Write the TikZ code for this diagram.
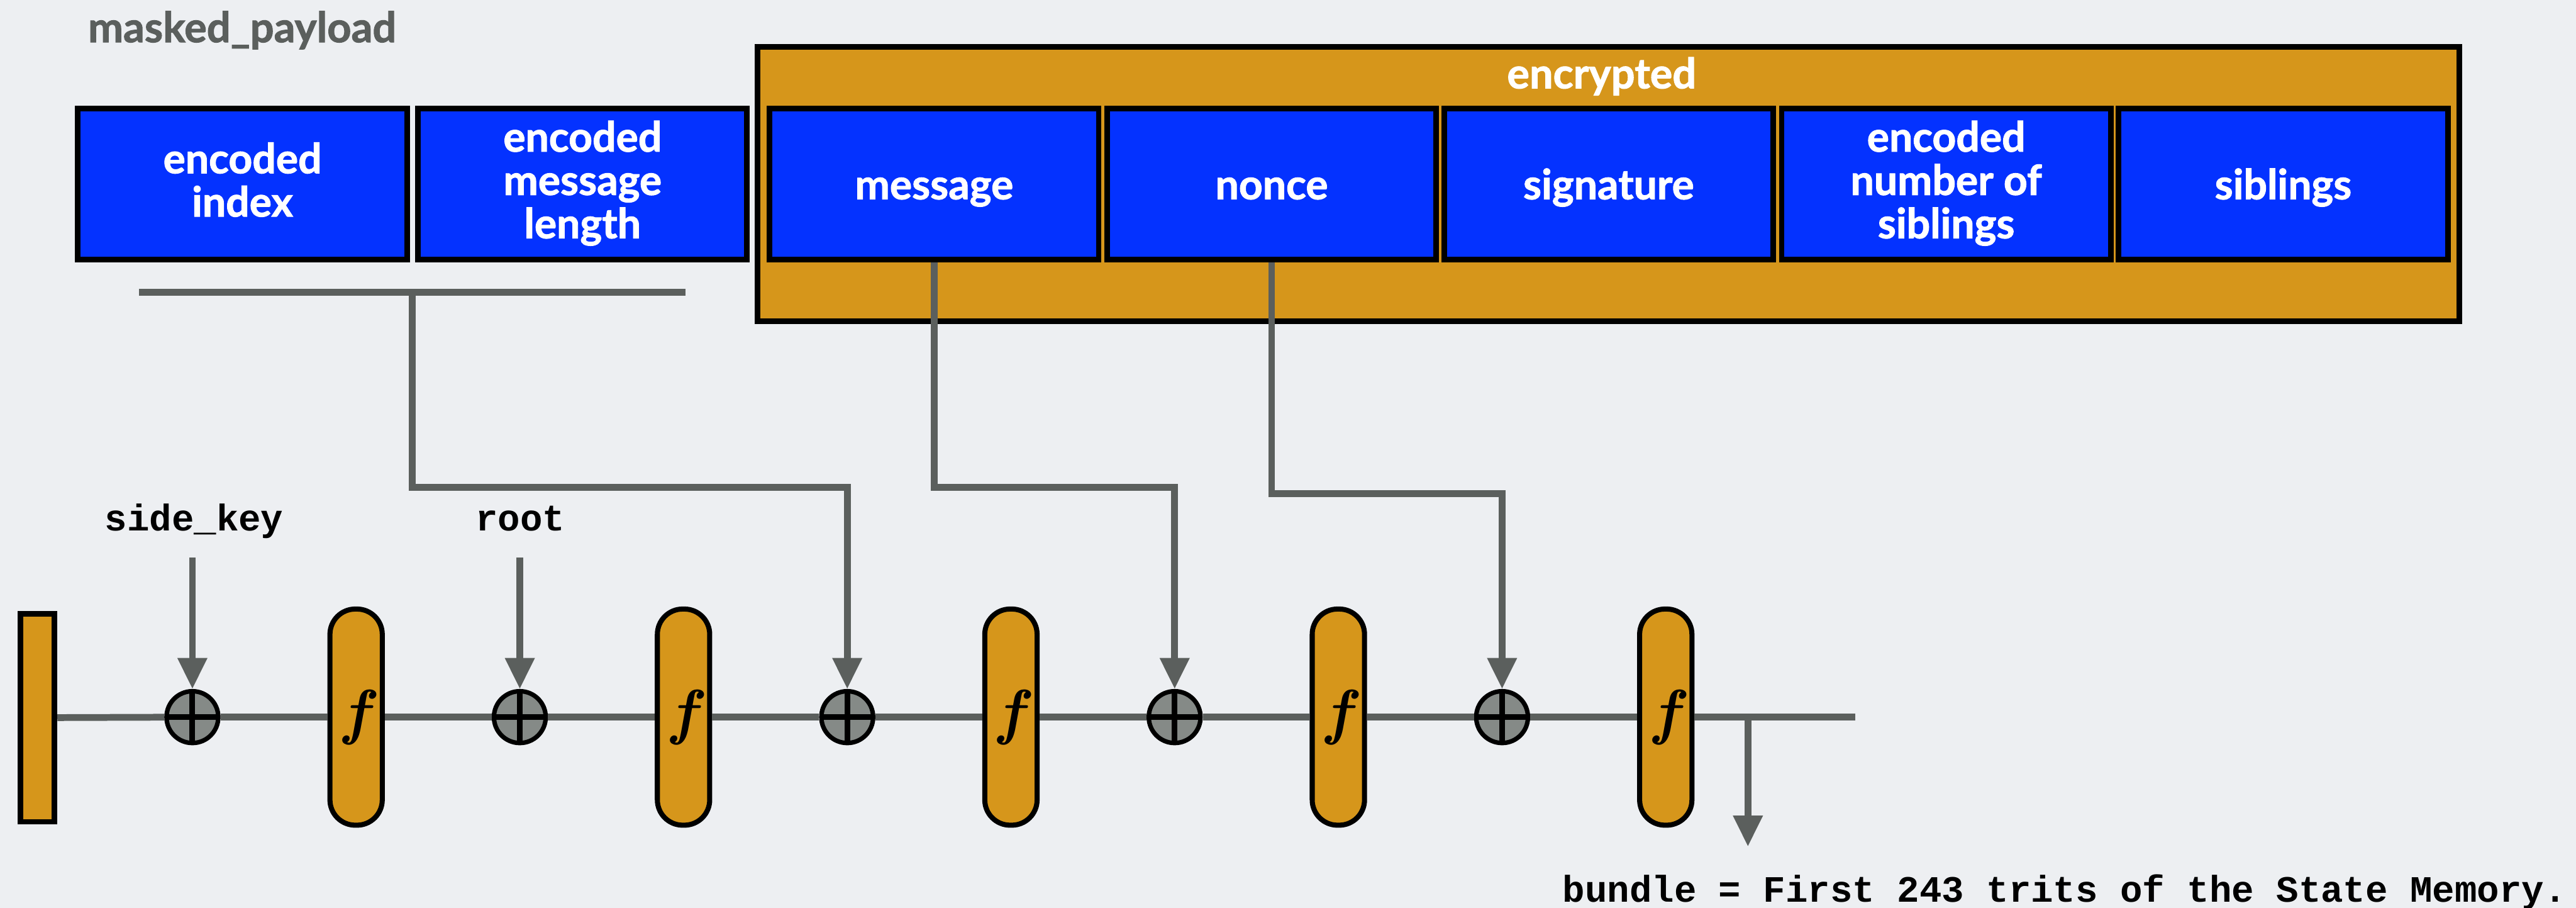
\documentclass[tikz,border=0pt]{standalone}
\usepackage{fontspec}
\newfontfamily\boxfont{Lato}[BoldFeatures={FakeBold=1.5}]
\setmonofont{Liberation Mono}
\usepackage{tikz}
\usetikzlibrary{arrows.meta,calc}

\definecolor{bgcol}{RGB}{237,239,242}
\definecolor{fieldblue}{RGB}{4,50,255}
\definecolor{spongeorange}{RGB}{214,150,27}
\definecolor{wiregray}{RGB}{91,95,93}
\definecolor{xorgray}{RGB}{133,138,135}

\begin{document}
\begin{tikzpicture}[
  field/.style={rectangle, draw=black, line width=0.1cm, fill=fieldblue, minimum width=5.85cm, minimum height=2.68cm, inner sep=0pt, text=white, align=center, font=\boxfont\fontsize{21}{21.9}\selectfont\bfseries,
    execute at begin node={\rule{0pt}{0.95em}}, execute at end node={\rule[-0.22em]{0pt}{0.22em}}},
  multiline/.style={execute at begin node={\rule{0pt}{1.2em}}},
  grouplbl/.style={inner sep=0pt, anchor=base, font=\boxfont\fontsize{21.2}{21.9}\selectfont\bfseries},
  monolbl/.style={inner sep=0pt, anchor=base, font=\ttfamily\fontsize{18.8}{20}\selectfont\bfseries},
  xorgate/.style={circle, draw=black, line width=0.08cm, fill=xorgray, minimum size=0.92cm, inner sep=0pt,
    path picture={\draw[black, line width=0.1cm] (path picture bounding box.north) -- (path picture bounding box.south)
      (path picture bounding box.west) -- (path picture bounding box.east);}},
  fbox/.style={rectangle, rounded corners=0.45cm, draw=black, line width=0.09cm, fill=spongeorange, minimum width=0.93cm, minimum height=3.84cm, inner sep=0pt, font=\fontsize{31}{31}\selectfont\bfseries\itshape},
  wire/.style={draw=wiregray, line width=0.12cm},
  arr/.style={-{Triangle[width=0.5cm,length=0.55cm]}}
]
  \fill[bgcol] (0,0) rectangle (45.79,-16.13);
  \useasboundingbox (0,0) rectangle (45.79,-16.13);

  \node[grouplbl, anchor=base west, text=wiregray] (maskedlbl) at (1.56,-0.75) {masked\_payload};

  \node[rectangle, draw=black, line width=0.1cm, fill=spongeorange, minimum width=30.25cm, minimum height=4.88cm] (enc) at (28.595,-3.27) {};
  \node[grouplbl, text=white] (enclbl) at (28.47,-1.57) {encrypted};

  \node[field, multiline] (idx) at (4.31,-3.27) {encoded\\index};
  \node[field, multiline] (len) at (10.355,-3.27) {encoded\\message\\length};
  \node[field] (msg) at (16.605,-3.27) {message};
  \node[field] (nonce) at (22.605,-3.27) {nonce};
  \node[field] (sig) at (28.595,-3.27) {signature};
  \node[field, multiline] (nsib) at (34.595,-3.27) {encoded\\number of\\siblings};
  \node[field] (sib) at (40.585,-3.27) {siblings};

  \node[rectangle, draw=black, line width=0.1cm, fill=spongeorange, minimum width=0.61cm, minimum height=3.7cm] (init) at (0.665,-12.75) {};
  \foreach \i in {1,...,5} {
    \node[xorgate] (xor\i) at ({3.42+5.82*(\i-1)},-12.74) {};
    \node[fbox] (f\i) at ({6.33+5.82*(\i-1)},-12.74) {f};
  }
  \coordinate (lineend) at (32.98,-12.74);
  \coordinate (tap) at (31.07,-12.74);
  \coordinate (out) at (31.07,-15.04);

  \foreach \a/\b in {init/xor1,xor1/f1,f1/xor2,xor2/f2,f2/xor3,xor3/f3,f3/xor4,xor4/f4,f4/xor5,xor5/f5,f5/lineend}
    \draw[wire] (\a) -- (\b);

  \node[monolbl] (sidekey) at (3.45,-9.43) {side\_key};
  \node[monolbl] (root) at (9.25,-9.43) {root};
  \draw[wire, arr] (xor1 |- 0,-9.91) -- (xor1.north);
  \draw[wire, arr] (xor2 |- 0,-9.91) -- (xor2.north);

  \coordinate (barL) at (2.47,-5.19);
  \coordinate (barR) at (12.19,-5.19);
  \coordinate (barM) at ($(barL)!0.5!(barR)$);
  \draw[wire] (barL) -- (barR);
  \draw[wire, arr] (barM) -- ++(0,-3.47) -| (xor3.north);
  \draw[wire, arr] (msg.south) -- ++(0,-4.0) -| (xor4.north);
  \draw[wire, arr] (nonce.south) -- ++(0,-4.11) -| (xor5.north);

  \draw[wire, arr] (tap) -- (out);
  \node[monolbl, anchor=base west] (bundle) at (27.77,-16.02) {bundle = First 243 trits of the State Memory.};
\end{tikzpicture}
\end{document}
